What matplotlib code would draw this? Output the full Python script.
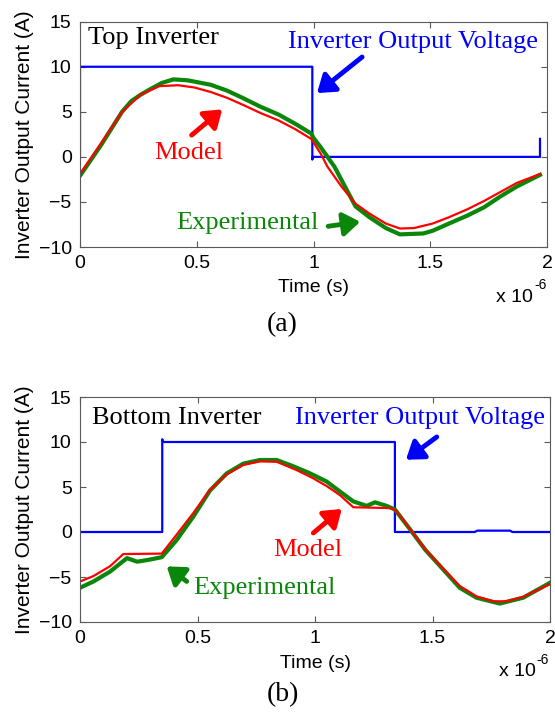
import matplotlib
matplotlib.use("Agg")
import matplotlib.pyplot as plt
import numpy as np

plt.rcParams['font.family'] = ['Liberation Sans', 'DejaVu Sans']

# ---- top inverter (times in microseconds) ----
top_model_t = [0, 0.09, 0.18, 0.26, 0.34, 0.42, 0.49, 0.56, 0.63, 0.70, 0.77, 0.85,
               0.92, 0.99, 1.03, 1.06, 1.12, 1.18, 1.24, 1.31, 1.37, 1.43, 1.51, 1.58,
               1.66, 1.73, 1.80, 1.87, 1.97]
top_model_i = [-1.9, 1.5, 5.0, 6.9, 7.85, 7.95, 7.7, 7.2, 6.55, 5.75, 4.9, 4.05,
               3.1, 2.0, 0.4, -1.1, -3.3, -5.2, -6.3, -7.4, -7.95, -7.9, -7.4, -6.7,
               -5.8, -4.9, -3.9, -2.9, -1.9]

top_exp_t = [0, 0.09, 0.18, 0.22, 0.26, 0.30, 0.35, 0.40, 0.46, 0.52, 0.56, 0.63,
             0.70, 0.77, 0.85, 0.92, 0.99, 1.0, 1.03, 1.09, 1.18, 1.24, 1.31, 1.37,
             1.47, 1.51, 1.58, 1.66, 1.73, 1.80, 1.87, 1.97]
top_exp_i = [-2.1, 1.3, 5.0, 6.2, 6.9, 7.5, 8.2, 8.6, 8.5, 8.2, 8.0, 7.35,
             6.5, 5.6, 4.7, 3.7, 2.6, 2.1, 1.1, -1.1, -5.5, -6.7, -7.9, -8.6,
             -8.5, -8.2, -7.4, -6.5, -5.6, -4.4, -3.3, -2.0]

top_volt_t = [0, 0, 0.995, 0.995, 0.997, 1.97, 1.97]
top_volt_v = [0, 10, 10, -0.3, 0, 0, 2]

# ---- bottom inverter ----
bot_model_t = [0, 0.057, 0.128, 0.184, 0.348, 0.411, 0.482, 0.553, 0.624, 0.695, 0.766,
               0.837, 0.92, 0.99, 1.05, 1.106, 1.163, 1.326, 1.347, 1.40, 1.47, 1.55,
               1.616, 1.687, 1.758, 1.815, 1.886, 1.996]
bot_model_i = [-5.5, -4.9, -3.8, -2.45, -2.4, -0.3, 2.1, 4.7, 6.4, 7.45, 7.85,
               7.8, 6.9, 6.0, 5.1, 4.1, 2.75, 2.65, 2.3, 0.45, -1.95, -4.2,
               -6.0, -7.15, -7.7, -7.7, -7.2, -5.85]

bot_exp_t = [0, 0.057, 0.128, 0.20, 0.243, 0.29, 0.348, 0.411, 0.482, 0.553, 0.624,
             0.695, 0.766, 0.837, 0.908, 0.976, 1.05, 1.106, 1.163, 1.22, 1.255, 1.305,
             1.34, 1.40, 1.47, 1.55, 1.616, 1.687, 1.786, 1.886, 1.996]
bot_exp_i = [-6.2, -5.5, -4.4, -2.9, -3.3, -3.1, -2.8, -0.9, 1.7, 4.6, 6.5,
             7.6, 8.0, 8.0, 7.3, 6.55, 5.6, 4.5, 3.4, 2.9, 3.3, 2.9,
             2.5, 0.45, -2.0, -4.3, -6.2, -7.3, -7.95, -7.3, -5.7]

bot_volt_t = [0, 0.35, 0.35, 0.355, 1.34, 1.34, 1.68, 1.69, 1.83, 1.84, 2.0]
bot_volt_v = [0, 0, 10.3, 10, 10, 0, 0, 0.15, 0.15, 0, 0]

xticks = [0, 0.5, 1, 1.5, 2]
xticklabels = ['0', '0.5', '1', '1.5', '2']
yticks = [-10, -5, 0, 5, 10, 15]

BLUE = '#0000ff'
RED = '#ff0000'
GREEN = '#0a860a'
SERIF = ['Liberation Serif', 'DejaVu Serif']

fig = plt.figure(figsize=(5.55, 7.19), dpi=100)
ax1 = fig.add_axes([80 / 555, 1 - 247 / 719, 467 / 555, 225.3 / 719])
ax2 = fig.add_axes([80 / 555, 1 - 622 / 719, 470 / 555, 225 / 719])


def setup(ax, h_px):
    ax.set_xlim(0, 2)
    ax.set_ylim(-10, 15)
    ax.set_xticks(xticks)
    ax.set_xticklabels(xticklabels)
    ax.set_yticks(yticks)
    ax.tick_params(direction='in', top=True, right=True, length=4, width=0.8,
                   color='0.35', labelsize=14, pad=6)
    for s in ax.spines.values():
        s.set_color('0.35')
        s.set_linewidth(0.8)
    ax.set_xlabel('Time (s)', fontsize=14)
    ax.xaxis.label.set_va('center')
    ax.xaxis.set_label_coords(0.5, -41 / h_px)
    ax.set_ylabel('Inverter Output Current (A)', fontsize=15)
    ax.yaxis.label.set_va('center')
    ax.yaxis.set_label_coords(-55 / 467, 0.5)
    ax.text(0.970, -50 / h_px, 'x 10', transform=ax.transAxes, ha='right',
            va='center', fontsize=14)
    ax.text(0.972, -38 / h_px, '-6', transform=ax.transAxes, ha='left',
            va='center', fontsize=10)


def arrow(ax, tail, tip, color):
    ax.annotate('', xy=tip, xytext=tail,
                arrowprops=dict(arrowstyle='-|>,head_length=0.5,head_width=0.35',
                                lw=3.5, color=color, mutation_scale=20,
                                shrinkA=0, shrinkB=0))


# top panel
ax1.plot(top_volt_t, top_volt_v, color=BLUE, lw=1.6)
ax1.plot(top_exp_t, top_exp_i, color=GREEN, lw=3.0)
ax1.plot(top_model_t, top_model_i, color=RED, lw=1.6)
setup(ax1, 225.3)
ax1.text(0.034, 13.2, 'Top Inverter', family=SERIF, fontsize=19, va='center')
ax1.text(0.89, 12.8, 'Inverter Output Voltage', family=SERIF, fontsize=19,
         va='center', color=BLUE)
arrow(ax1, (1.208, 11.08), (1.015, 7.08), BLUE)
ax1.text(0.467, 0.41, 'Model', family=SERIF, fontsize=19, ha='center',
         va='center', color=RED)
arrow(ax1, (0.478, 2.41), (0.609, 5.27), RED)
ax1.text(0.414, -7.37, 'Experimental', family=SERIF, fontsize=19, va='center',
         color=GREEN)
arrow(ax1, (1.063, -7.7), (1.2, -7.2), GREEN)

# bottom panel
ax2.plot(bot_volt_t, bot_volt_v, color=BLUE, lw=1.6)
ax2.plot(bot_exp_t, bot_exp_i, color=GREEN, lw=3.0)
ax2.plot(bot_model_t, bot_model_i, color=RED, lw=1.6)
setup(ax2, 225)
ax2.text(0.05, 12.67, 'Bottom Inverter', family=SERIF, fontsize=19, va='center')
ax2.text(0.915, 12.67, 'Inverter Output Voltage', family=SERIF, fontsize=19,
         va='center', color=BLUE)
arrow(ax2, (1.518, 10.56), (1.387, 8.03), BLUE)
ax2.text(0.968, -1.97, 'Model', family=SERIF, fontsize=19, ha='center',
         va='center', color=RED)
arrow(ax2, (0.993, -0.11), (1.114, 2.56), RED)
ax2.text(0.482, -6.22, 'Experimental', family=SERIF, fontsize=19, va='center',
         color=GREEN)
arrow(ax2, (0.454, -5.49), (0.369, -3.82), GREEN)

fig.text(281.7 / 555, 1 - 325 / 719, '(a)', family=SERIF, fontsize=20,
         ha='center', va='center')
fig.text(283 / 555, 1 - 695 / 719, '(b)', family=SERIF, fontsize=20,
         ha='center', va='center')

fig.savefig('out.png', dpi=100)
